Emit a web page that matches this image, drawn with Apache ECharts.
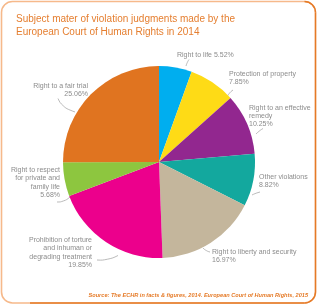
<!DOCTYPE html>
<html>
<head>
<meta charset="utf-8">
<script src="https://cdn.jsdelivr.net/npm/echarts@6/dist/echarts.min.js"></script>
<style>
html,body{margin:0;padding:0;background:#fff;}
#c{width:319px;height:305px;}
</style>
</head>
<body>
<div id="c"></div>
<script>
const categories = [
  'Right to life',
  'Protection of property',
  'Right to an effective\nremedy',
  'Other violations',
  'Right to liberty and security',
  'Prohibition of torture\nand inhuman or\ndegrading treatment',
  'Right to respect\nfor private and\nfamily life',
  'Right to a fair trial'
];
const values = [5.52, 7.85, 10.25, 8.82, 16.97, 19.85, 5.68, 25.06];
const valueLabels = ['5.52%', '7.85%', '10.25%', '8.82%', '16.97%', '19.85%', '5.68%', '25.06%'];
const colors = ['#00AEEF', '#FEDB16', '#92278F', '#13A89E', '#C4B69C', '#EC008C', '#8DC63F', '#E07420'];

// label placement (x, top y, align) per slice
const labelPlace = [
  [177, 51, 'left'],
  [229, 70, 'left'],
  [249, 103.5, 'left'],
  [259, 172.5, 'left'],
  [212, 248, 'left'],
  [92, 236, 'right'],
  [60, 166, 'right'],
  [88, 81.5, 'right']
];
// leader line paths (slice side -> label side)
const leaderLines = [
  [[186, 66], [187, 62.5], [189, 59.5]],
  [[227, 97], [229, 93], [233, 90]],
  [[256, 134], [259, 131], [263, 128.5]],
  [[252, 195], [255, 193.5], [260, 192]],
  [[203, 248], [206, 251], [210, 252]],
  [[118, 255.5], [108, 260.5], [97, 260]],
  [[70, 197], [64, 202], [57, 202]],
  [[75, 112], [62, 107], [58, 98.5]]
];

const peach = '#F6B98B', orange = '#E57A27';
const chart = echarts.init(document.getElementById('c'), null, {renderer: 'canvas'});
chart.setOption({
  animation: false,
  title: {
    text: 'Subject mater of violation judgments made by the\nEuropean Court of Human Rights in 2014',
    left: 11, top: 8,
    textStyle: {fontFamily: 'Liberation Sans', fontSize: 10, fontWeight: 'normal', color: '#E57E2F', lineHeight: 12.7}
  },
  graphic: [
    {type: 'rect', shape: {x: 1.5, y: 1.5, width: 314, height: 301.5, r: 11},
     style: {fill: 'none', stroke: peach, lineWidth: 1.6}, z: 10},
    {type: 'arc', shape: {cx: 304.5, cy: 12.5, r: 11, startAngle: -Math.PI / 2, endAngle: 0, clockwise: true},
     style: {stroke: orange, lineWidth: 1.4, fill: 'none'}, z: 11},
    {type: 'line', shape: {x1: 315.5, y1: 12.5, x2: 315.5, y2: 292}, style: {stroke: orange, lineWidth: 1.4}, z: 11},
    {type: 'arc', shape: {cx: 304.5, cy: 292, r: 11, startAngle: 0, endAngle: Math.PI / 2, clockwise: true},
     style: {stroke: orange, lineWidth: 1.4, fill: 'none'}, z: 11},
    {type: 'line', shape: {x1: 304.5, y1: 303, x2: 30, y2: 303}, style: {stroke: orange, lineWidth: 1.4}, z: 11},
    {type: 'text', right: 11, top: 292,
     style: {text: 'Source: The ECHR in facts & figures, 2014. European Court of Human Rights, 2015',
       font: 'italic bold 5.6px "Liberation Sans"', fill: orange}}
  ],
  series: [{
    type: 'pie',
    center: [159, 162],
    radius: [0, 96],
    startAngle: 90,
    clockwise: true,
    avoidLabelOverlap: false,
    data: categories.map((n, i) => ({name: n, value: values[i], itemStyle: {color: colors[i]}})),
    label: {
      show: true,
      formatter: p => p.name + (p.dataIndex === 0 ? ' ' : '\n') + valueLabels[p.dataIndex],
      fontFamily: 'Liberation Sans',
      fontSize: 7,
      lineHeight: 8.3,
      color: '#8C8C8C'
    },
    labelLine: {show: true, length: 6, length2: 4, smooth: 0.5, lineStyle: {color: '#A8A8A8', width: 0.8}},
    labelLayout: function (p) {
      const pl = labelPlace[p.dataIndex];
      return {x: pl[0], y: pl[1], align: pl[2], verticalAlign: 'top', labelLinePoints: leaderLines[p.dataIndex]};
    }
  }]
});
</script>
</body>
</html>
